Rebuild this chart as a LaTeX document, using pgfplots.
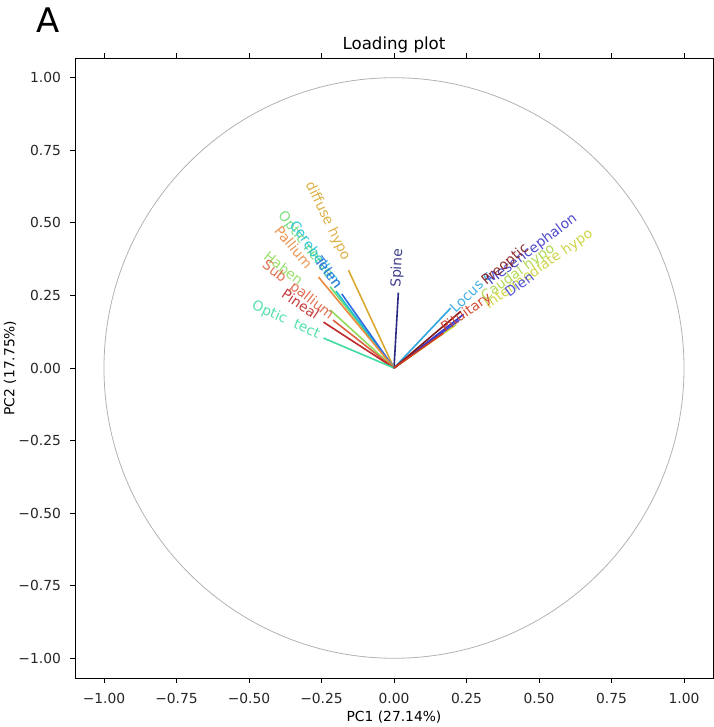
\documentclass[border=0pt]{standalone}
\usepackage{fontspec}
\setmainfont{DejaVu Sans}
\usepackage{pgfplots}
\pgfplotsset{compat=1.18}
\definecolor{cSpine}{HTML}{2A2A80}
\definecolor{cMes}{HTML}{3A36C8}
\definecolor{cDien}{HTML}{4646E0}
\definecolor{cTelen}{HTML}{2E6CE0}
\definecolor{cLocus}{HTML}{2EA6E0}
\definecolor{cCereb}{HTML}{1EC0D0}
\definecolor{cOtect}{HTML}{40DCA0}
\definecolor{cOnerve}{HTML}{6EDC74}
\definecolor{cHaben}{HTML}{90DC5C}
\definecolor{cCaudal}{HTML}{A8D444}
\definecolor{cInter}{HTML}{C8D034}
\definecolor{cDiffuse}{HTML}{D8A830}
\definecolor{cPallium}{HTML}{EC8A3E}
\definecolor{cSub}{HTML}{DE6040}
\definecolor{cPineal}{HTML}{C0282A}
\definecolor{cPit}{HTML}{D03A20}
\definecolor{cPreop}{HTML}{801818}
\newcommand{\lbl}{\fontsize{13.9}{16}\selectfont}
\begin{document}
\begin{tikzpicture}
\useasboundingbox (-75bp,-49bp) rectangle (639bp,678bp);
\node[anchor=base,font=\fontsize{34}{36}\selectfont,inner sep=0pt] at (-27bp,645bp) {A};
\begin{axis}[
  at={(0,0)}, anchor=south west,
  scale only axis, width=638bp, height=620bp,
  xmin=-1.1, xmax=1.1, ymin=-1.068, ymax=1.068,
  axis line style={black, line width=0.8bp},
  tick align=outside, tick style={black, line width=0.8bp}, major tick length=4.9bp,
  xtick={-1,-0.75,-0.5,-0.25,0,0.25,0.5,0.75,1},
  ytick={-1,-0.75,-0.5,-0.25,0,0.25,0.5,0.75,1},
  xticklabels={−1.00,−0.75,−0.50,−0.25,0.00,0.25,0.50,0.75,1.00},
  yticklabels={−1.00,−0.75,−0.50,−0.25,0.00,0.25,0.50,0.75,1.00},
  ticklabel style={font=\fontsize{13.9}{16}\selectfont, text=black!85, inner sep=0pt},
  xticklabel style={anchor=base, yshift=-21bp},
  yticklabel style={anchor=east, xshift=-9bp},
  title={Loading plot},
  title style={at={(axis description cs:0.5,1.0145)}, anchor=base, yshift=-6bp, font=\fontsize{16.7}{19}\selectfont, inner sep=0pt},
  xlabel={PC1 (27.14\%)},
  xlabel style={at={(axis description cs:0.5,-0.0694)}, anchor=base, font=\fontsize{13.9}{16}\selectfont, inner sep=0pt},
  ylabel={PC2 (17.75\%)},
  ylabel style={at={(axis description cs:-0.102,0.5)}, anchor=center, font=\fontsize{13.9}{16}\selectfont, inner sep=0pt},
  every axis plot/.append style={line width=1.6bp},
  clip=false,
]
\draw[gray!60, line width=0.8bp] (axis cs:0,0) ellipse [x radius=1, y radius=1];

\addplot[cSpine] coordinates {(0,0) (0.015,0.26)};
\addplot[cDiffuse] coordinates {(0,0) (-0.157,0.337)};
\addplot[cOnerve] coordinates {(0,0) (-0.22,0.28)};
\addplot[cCereb] coordinates {(0,0) (-0.2,0.265)};
\addplot[cTelen] coordinates {(0,0) (-0.18,0.255)};
\addplot[cPallium] coordinates {(0,0) (-0.26,0.313)};
\addplot[cHaben] coordinates {(0,0) (-0.22,0.2)};
\addplot[cSub] coordinates {(0,0) (-0.21,0.165)};
\addplot[cPineal] coordinates {(0,0) (-0.243,0.158)};
\addplot[cOtect] coordinates {(0,0) (-0.243,0.103)};
\addplot[cLocus] coordinates {(0,0) (0.195,0.206)};
\addplot[cCaudal] coordinates {(0,0) (0.2,0.145)};
\addplot[cInter] coordinates {(0,0) (0.215,0.15)};
\addplot[cDien] coordinates {(0,0) (0.225,0.165)};
\addplot[cMes] coordinates {(0,0) (0.24,0.185)};
\addplot[cPreop] coordinates {(0,0) (0.23,0.195)};
\addplot[cPit] coordinates {(0,0) (0.17,0.12)};

\begin{scope}[every node/.style={font=\lbl, inner sep=0pt, text opacity=0.9}]
\node[rotate=87, text=cSpine] at (axis cs:0.012,0.344) {Spine};
\node[rotate=-64, text=cDiffuse] at (axis cs:-0.229,0.506) {diffuse hypo};
\node[rotate=-52, text=cOnerve] at (axis cs:-0.305,0.423) {Optic nerve};
\node[rotate=-54, text=cCereb] at (axis cs:-0.267,0.392) {Cerebellum};
\node[rotate=-53, text=cTelen] at (axis cs:-0.225,0.33) {Telen};
\node[rotate=-50, text=cPallium] at (axis cs:-0.346,0.417) {Pallium};
\node[rotate=-38, text=cHaben] at (axis cs:-0.38,0.344) {Haben};
\node[rotate=-38, text=cSub] at (axis cs:-0.332,0.268) {Sub\ \ pallium};
\node[rotate=-34, text=cPineal] at (axis cs:-0.322,0.22) {Pineal};
\node[rotate=-24, text=cOtect] at (axis cs:-0.373,0.165) {Optic\ \ tect};
\node[rotate=44, text=cLocus] at (axis cs:0.265,0.262) {Locus c};
\node[rotate=36, text=cCaudal] at (axis cs:0.428,0.327) {Caudal hypo};
\node[rotate=35, text=cInter] at (axis cs:0.5,0.34) {Intermediate hypo};
\node[rotate=37, text=cMes] at (axis cs:0.476,0.406) {Mesencephalon};
\node[rotate=40, text=cPreop] at (axis cs:0.384,0.355) {Preoptic};
\node[rotate=36, text=cDien] at (axis cs:0.432,0.289) {Dien};
\node[rotate=35, text=cPit] at (axis cs:0.25,0.189) {Pituitary};
\end{scope}
\end{axis}
\end{tikzpicture}
\end{document}
